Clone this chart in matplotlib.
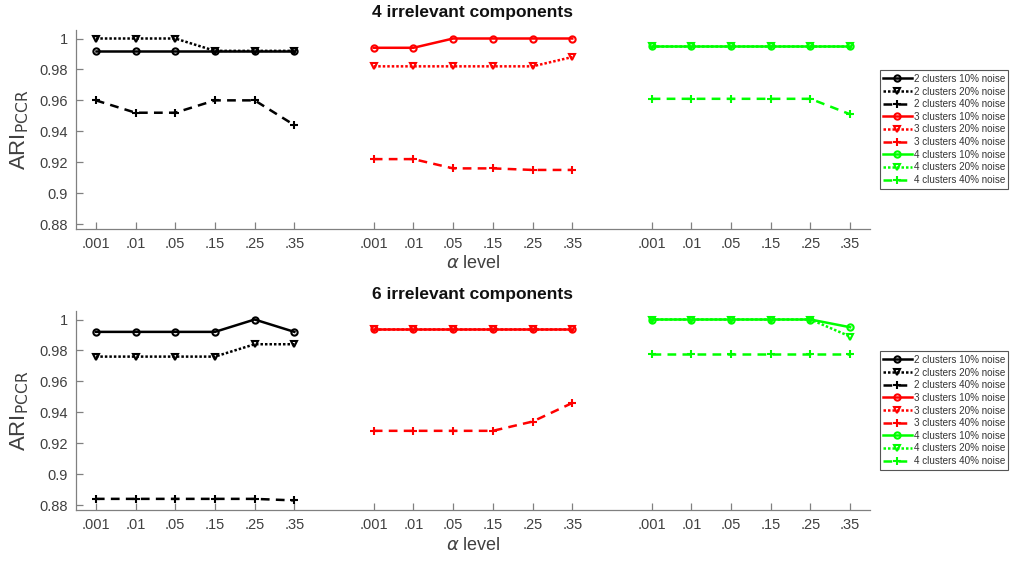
import matplotlib
matplotlib.use("Agg")
import matplotlib.pyplot as plt
import numpy as np

plt.rcParams['font.family'] = ['Liberation Sans', 'DejaVu Sans']
plt.rcParams['mathtext.fontset'] = 'dejavusans'

alpha_labels = ['.001', '.01', '.05', '.15', '.25', '.35']
cluster_counts = [2, 3, 4]
noise_levels = ['10%', '20%', '40%']
panel_titles = ['4 irrelevant components', '6 irrelevant components']

# 4 irrelevant components
p4_c2_n10 = [0.992, 0.992, 0.992, 0.992, 0.992, 0.992]
p4_c2_n20 = [1.000, 1.000, 1.000, 0.992, 0.992, 0.992]
p4_c2_n40 = [0.960, 0.952, 0.952, 0.960, 0.960, 0.944]
p4_c3_n10 = [0.994, 0.994, 1.000, 1.000, 1.000, 1.000]
p4_c3_n20 = [0.982, 0.982, 0.982, 0.982, 0.982, 0.988]
p4_c3_n40 = [0.922, 0.922, 0.916, 0.916, 0.915, 0.915]
p4_c4_n10 = [0.995, 0.995, 0.995, 0.995, 0.995, 0.995]
p4_c4_n20 = [0.995, 0.995, 0.995, 0.995, 0.995, 0.995]
p4_c4_n40 = [0.961, 0.961, 0.961, 0.961, 0.961, 0.951]

# 6 irrelevant components
p6_c2_n10 = [0.992, 0.992, 0.992, 0.992, 1.000, 0.992]
p6_c2_n20 = [0.976, 0.976, 0.976, 0.976, 0.984, 0.984]
p6_c2_n40 = [0.884, 0.884, 0.884, 0.884, 0.884, 0.883]
p6_c3_n10 = [0.994, 0.994, 0.994, 0.994, 0.994, 0.994]
p6_c3_n20 = [0.994, 0.994, 0.994, 0.994, 0.994, 0.994]
p6_c3_n40 = [0.928, 0.928, 0.928, 0.928, 0.934, 0.946]
p6_c4_n10 = [1.000, 1.000, 1.000, 1.000, 1.000, 0.995]
p6_c4_n20 = [1.000, 1.000, 1.000, 1.000, 1.000, 0.989]
p6_c4_n40 = [0.978, 0.978, 0.978, 0.978, 0.978, 0.978]

panels = [
    [[p4_c2_n10, p4_c2_n20, p4_c2_n40],
     [p4_c3_n10, p4_c3_n20, p4_c3_n40],
     [p4_c4_n10, p4_c4_n20, p4_c4_n40]],
    [[p6_c2_n10, p6_c2_n20, p6_c2_n40],
     [p6_c3_n10, p6_c3_n20, p6_c3_n40],
     [p6_c4_n10, p6_c4_n20, p6_c4_n40]],
]

colors = ['#000000', '#ff0000', '#00ff00']
styles = ['-', (0, (1, 0.8)), (0, (3.5, 2.5))]
markers = ['o', 'v', '+']

W, H = 1015, 565
fig = plt.figure(figsize=(W / 100, H / 100), dpi=100)

axes_boxes = [(76, 30, 870, 229), (76, 311, 870, 510)]
gray = '#808080'
txt = '#404040'

for pi, (box, data) in enumerate(zip(axes_boxes, panels)):
    l, t, r, b = box
    ax = fig.add_axes([l / W, 1 - b / H, (r - l) / W, (b - t) / H])
    xt = []
    xl = []
    for ci, nc in enumerate(cluster_counts):
        xs = np.arange(1, 7) + ci * 7
        xt.extend(xs)
        xl.extend(alpha_labels)
        for ni, nl in enumerate(noise_levels):
            ax.plot(xs, data[ci][ni], color=colors[ci], linestyle=styles[ni],
                    marker=markers[ni], markersize=4.5 if markers[ni] != '+' else 6,
                    mfc='none', mew=1.5, lw=1.8,
                    label=f'{nc} clusters {nl} noise')
    ax.set_xlim(0.5, 20.5)
    ax.set_ylim(0.8768, 1.0055)
    ax.set_xticks(xt)
    ax.set_xticklabels(xl)
    ax.set_yticks([0.88, 0.9, 0.92, 0.94, 0.96, 0.98, 1.0])
    ax.set_yticklabels(['0.88', '0.9', '0.92', '0.94', '0.96', '0.98', '1'])
    for s in ['top', 'right']:
        ax.spines[s].set_visible(False)
    for s in ['left', 'bottom']:
        ax.spines[s].set_color(gray)
        ax.spines[s].set_linewidth(0.9)
    ax.tick_params(direction='in', length=5, width=0.9, color=gray,
                   labelsize=10.5, labelcolor=txt, pad=6)
    ax.set_title(panel_titles[pi], fontsize=12.5, fontweight='bold', pad=9, color='#111111')
    ax.set_xlabel(r'$\alpha$ level', fontsize=13, color=txt, labelpad=3)
    ax.set_ylabel(r'ARI$_{\mathrm{PCCR}}$', fontsize=16, color=txt, labelpad=6)
    leg = ax.legend(loc='center left', bbox_to_anchor=(1.012, 0.5), fontsize=7.1,
                    handlelength=2.9, handletextpad=0.2, labelspacing=0.27,
                    borderpad=0.35, borderaxespad=0.0, fancybox=False, framealpha=1,
                    edgecolor='#555555')
    leg.get_frame().set_linewidth(0.8)
    for tx in leg.get_texts():
        tx.set_color('#333333')

fig.savefig('out.png', dpi=100)
